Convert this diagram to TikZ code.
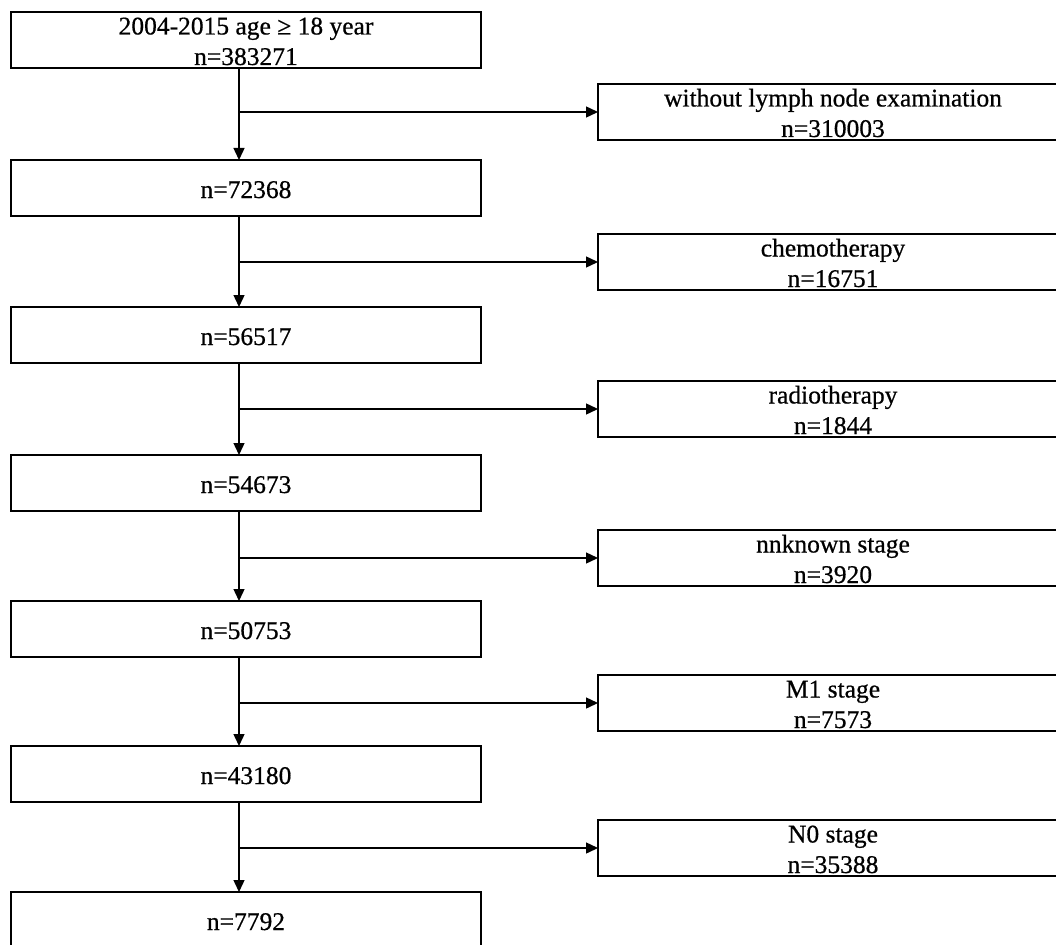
\documentclass[tikz,border=0pt]{standalone}
\usepackage{fontspec}
\setmainfont{Liberation Serif}
\newfontfamily\heavyserif[FakeBold=0.6]{Liberation Serif}
\usetikzlibrary{arrows.meta}
\begin{document}
\begin{tikzpicture}[x=1pt,y=1pt,
  box/.style={draw, line width=1.4pt, minimum width=470pt, minimum height=56pt, inner sep=0pt, outer sep=0pt, anchor=north west},
  txt/.style={font=\heavyserif\fontsize{25.5}{30}\selectfont, inner sep=0pt, anchor=base},
  arr/.style={line width=1.4pt, -{Triangle[length=12pt,width=11pt]}}]
\useasboundingbox (0,0) rectangle (1056,-944);
\fill[white] (0,0) rectangle (1056,-944);
\coordinate (V) at (239,0);
% left column
\node[box] (L1) at (11,-12) {};
\node[box] (L2) at (11,-160) {};
\node[box] (L3) at (11,-307) {};
\node[box] (L4) at (11,-455) {};
\node[box] (L5) at (11,-601) {};
\node[box] (L6) at (11,-746) {};
\node[box] (L7) at (11,-892) {};
\node[txt] (L1a) at (246,-34.5) {2004-2015 age ≥ 18 year};
\node[txt] (L1b) at (246,-65) {n=383271};
\node[txt] (L2a) at (246,-198) {n=72368};
\node[txt] (L3a) at (246,-345) {n=56517};
\node[txt] (L4a) at (246,-493) {n=54673};
\node[txt] (L5a) at (246,-639) {n=50753};
\node[txt] (L6a) at (246,-784) {n=43180};
\node[txt] (L7a) at (246,-930) {n=7792};
% right column
\node[box] (R1) at (598,-84) {};
\node[box] (R2) at (598,-234) {};
\node[box] (R3) at (598,-381) {};
\node[box] (R4) at (598,-530) {};
\node[box] (R5) at (598,-675) {};
\node[box] (R6) at (598,-820) {};
\node[txt] (R1a) at (833,-106.5) {without lymph node examination};
\node[txt] (R1b) at (833,-137) {n=310003};
\node[txt] (R2a) at (833,-256.5) {chemotherapy};
\node[txt] (R2b) at (833,-287) {n=16751};
\node[txt] (R3a) at (833,-403.5) {radiotherapy};
\node[txt] (R3b) at (833,-434) {n=1844};
\node[txt] (R4a) at (833,-552.5) {nnknown stage};
\node[txt] (R4b) at (833,-583) {n=3920};
\node[txt] (R5a) at (833,-697.5) {M1 stage};
\node[txt] (R5b) at (833,-728) {n=7573};
\node[txt] (R6a) at (833,-842.5) {N0 stage};
\node[txt] (R6b) at (833,-873) {n=35388};
% connectors
\foreach \a/\b/\r in {L1/L2/R1, L2/L3/R2, L3/L4/R3, L4/L5/R4, L5/L6/R5, L6/L7/R6}{
  \draw[arr] (\a.south -| V) -- (\b.north -| V);
  \draw[arr] (\r.west -| V) -- (\r.west);
}
\end{tikzpicture}
\end{document}
